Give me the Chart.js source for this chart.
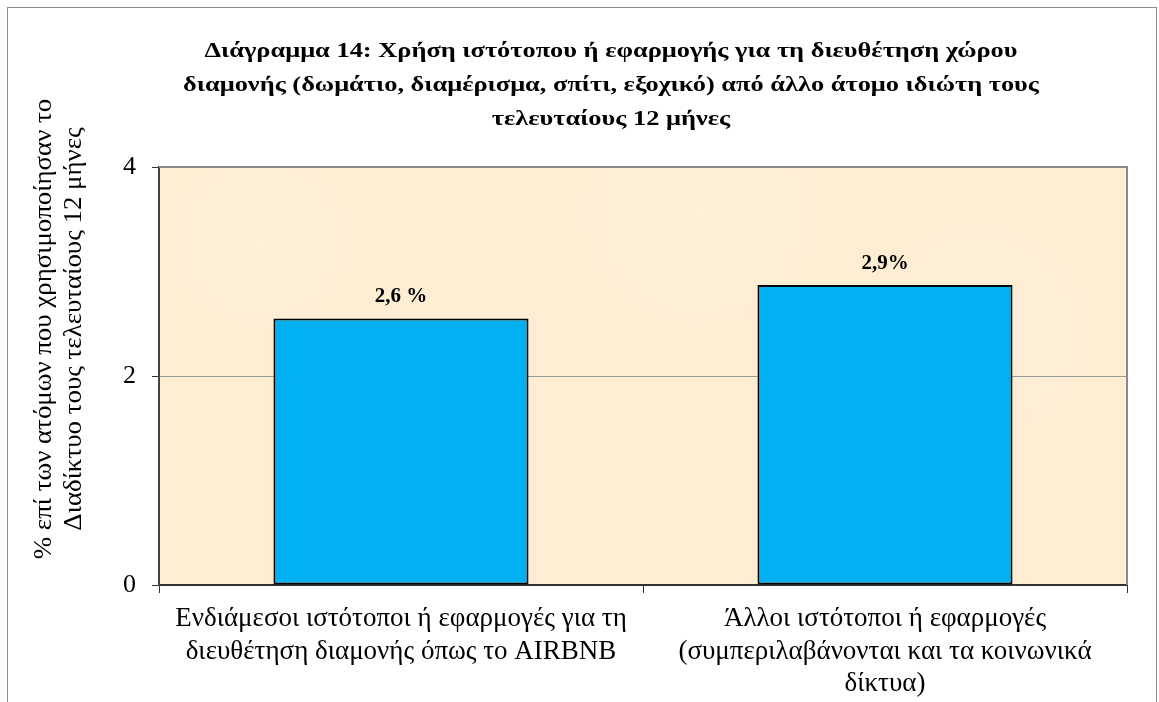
<!DOCTYPE html>
<html>
<head>
<meta charset="utf-8">
<script src="https://cdn.jsdelivr.net/npm/chart.js@4"></script>
<style>
  html, body { margin: 0; padding: 0; background: #fff; }
  canvas { display: block; }
</style>
</head>
<body>
<canvas id="chart" width="1159" height="702"></canvas>
<script>
// data
const categories = [
  ["Ενδιάμεσοι ιστότοποι ή εφαρμογές για τη", "διευθέτηση διαμονής όπως το AIRBNB"],
  ["Άλλοι ιστότοποι ή εφαρμογές", "(συμπεριλαβάνονται και τα κοινωνικά", "δίκτυα)"]
];
const values = [2.55, 2.87];
const valueLabels = ["2,6 %", "2,9%"];
const yTicks = [0, 2, 4];
const titleLines = [
  "Διάγραμμα 14: Χρήση ιστότοπου ή εφαρμογής για τη διευθέτηση χώρου",
  "διαμονής (δωμάτιο, διαμέρισμα, σπίτι, εξοχικό) από άλλο άτομο ιδιώτη τους",
  "τελευταίους 12 μήνες"
];
const yTitleLines = [
  "% επί των ατόμων που χρησιμοποίησαν το",
  "Διαδίκτυο τους τελευταίους 12 μήνες"
];

const serif = "'Liberation Serif', 'Times New Roman', serif";

// text drawn a bit wider, the greek font of the original runs wide
function wideText(ctx, text, x, y, sx) {
  ctx.save();
  ctx.translate(x, y);
  ctx.scale(sx, 1);
  ctx.fillText(text, 0, 0);
  ctx.restore();
}

// background, frame and titles
const decor = {
  id: "decor",
  beforeDraw(chart) {
    const { ctx, chartArea: a } = chart;
    ctx.save();
    ctx.fillStyle = "#fff";
    ctx.fillRect(0, 0, chart.width, chart.height);
    ctx.fillStyle = "#fcedd3";
    ctx.fillRect(a.left, a.top, a.right - a.left, a.bottom - a.top);
    // a few soft light patches, parchment look
    const spots = [[260, 240, 90], [700, 210, 120], [980, 330, 110], [420, 470, 100], [860, 520, 90]];
    spots.forEach(([x, y, r]) => {
      const g = ctx.createRadialGradient(x, y, 0, x, y, r);
      g.addColorStop(0, "rgba(255,246,228,0.35)");
      g.addColorStop(1, "rgba(255,246,228,0)");
      ctx.fillStyle = g;
      ctx.fillRect(a.left, a.top, a.right - a.left, a.bottom - a.top);
    });
    ctx.strokeStyle = "#8c8c8c";
    ctx.lineWidth = 1;
    ctx.strokeRect(7.5, 7.5, 1149, 760);
    ctx.restore();
  },
  afterDraw(chart) {
    const { ctx, chartArea: a } = chart;
    ctx.save();
    // top and right border of plot
    ctx.strokeStyle = "#888";
    ctx.lineWidth = 2;
    ctx.beginPath();
    ctx.moveTo(a.left, a.top);
    ctx.lineTo(a.right, a.top);
    ctx.lineTo(a.right, a.bottom);
    ctx.stroke();

    ctx.fillStyle = "#000";
    ctx.textAlign = "center";
    ctx.textBaseline = "middle";
    ctx.font = "bold 22px " + serif;
    titleLines.forEach((t, i) => wideText(ctx, t, 611, 51 + i * 34, 1.2));

    ctx.font = "25px " + serif;
    ctx.translate(0, 329);
    ctx.rotate(-Math.PI / 2);
    yTitleLines.forEach((t, i) => wideText(ctx, t, 0, 44 + i * 30, 1.075));
    ctx.restore();
  }
};

// value labels above bars
const barLabels = {
  id: "barLabels",
  afterDatasetsDraw(chart) {
    const { ctx } = chart;
    const meta = chart.getDatasetMeta(0);
    ctx.save();
    ctx.fillStyle = "#000";
    ctx.font = "bold 21px " + serif;
    ctx.textAlign = "center";
    ctx.textBaseline = "middle";
    meta.data.forEach((bar, i) => {
      ctx.fillText(valueLabels[i], bar.x, bar.y - 22);
    });
    ctx.restore();
  }
};

const ctx = document.getElementById("chart").getContext("2d");
const chart = new Chart(ctx, {
  type: "bar",
  data: {
    labels: categories,
    datasets: [{
      data: values,
      backgroundColor: "#00b0f0",
      borderColor: "#000",
      borderWidth: 2,
      borderSkipped: false,
      barPercentage: 0.527,
      categoryPercentage: 1
    }]
  },
  options: {
    responsive: false,
    devicePixelRatio: 1,
    animation: false,
    layout: { padding: { top: 167, left: 109, right: 32, bottom: 0 } },
    plugins: {
      legend: { display: false },
      title: { display: false },
      tooltip: { enabled: false }
    },
    scales: {
      x: {
        afterFit: (s) => { s.height = 117; },
        grid: {
          offset: true,
          drawOnChartArea: false,
          tickLength: 8,
          tickColor: "#333",
          tickWidth: 1
        },
        border: { color: "#333", width: 2 },
        ticks: {
          color: "#000",
          padding: 9,
          maxRotation: 0,
          font: { family: serif, size: 27, lineHeight: 1.22 }
        }
      },
      y: {
        min: 0,
        max: 4,
        afterFit: (s) => { s.width = 50; },
        afterBuildTicks: (s) => { s.ticks = yTicks.map(v => ({ value: v })); },
        grid: {
          color: (c) => (c.tick && c.tick.value === 2 ? "#999" : "rgba(0,0,0,0)"),
          lineWidth: 1,
          tickLength: 7,
          tickColor: "#333",
          tickWidth: 1
        },
        border: { color: "#444", width: 2 },
        ticks: {
          color: "#000",
          padding: 16,
          font: { family: serif, size: 26 }
        }
      }
    }
  },
  plugins: [decor, barLabels]
});
</script>
</body>
</html>
